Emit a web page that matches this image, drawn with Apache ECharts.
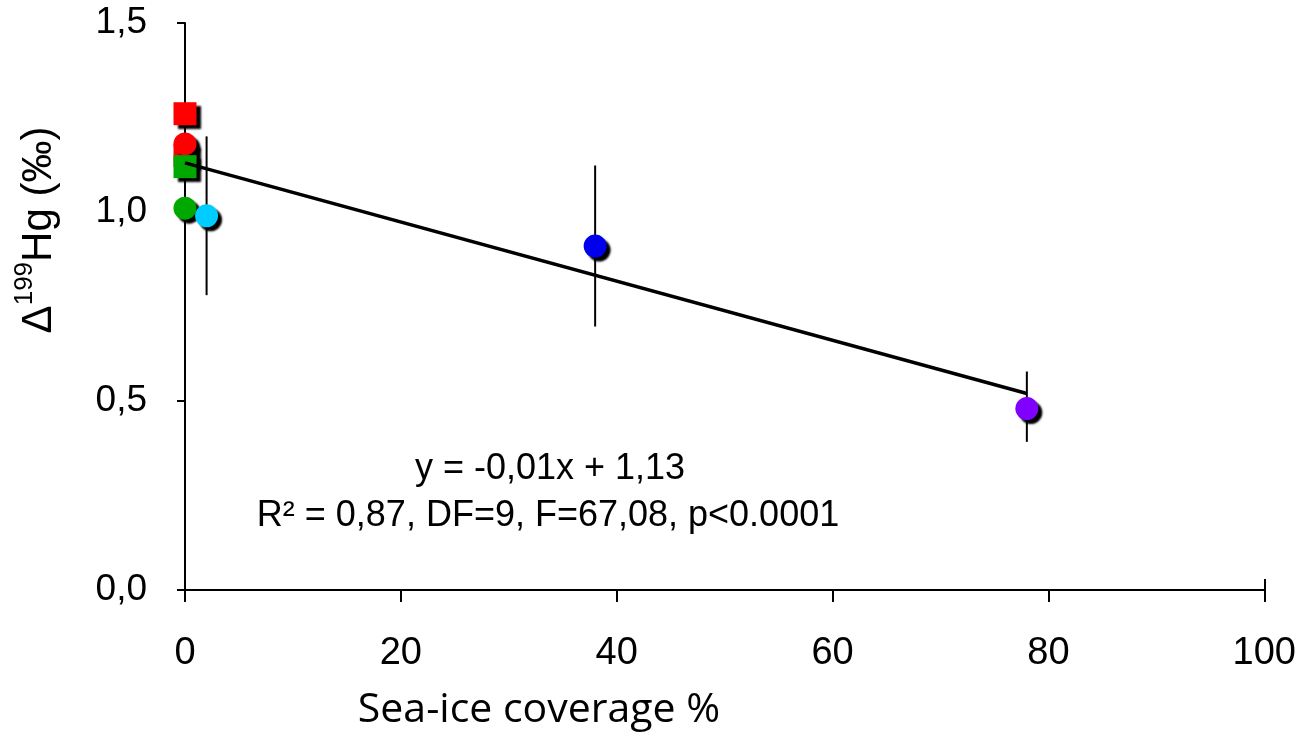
<!DOCTYPE html>
<html>
<head>
<meta charset="utf-8">
<script src="https://cdn.jsdelivr.net/npm/echarts@6/dist/echarts.min.js"></script>
<style>
  html, body { margin: 0; padding: 0; background: #fff; }
  #chart { width: 1299px; height: 735px; }
</style>
</head>
<body>
<div id="chart"></div>
<script>
// data
const redSquares = [[0, 1.26], [0, 1.15]]
const redCircles = [[0, 1.18]]
const greenSquares = [[0, 1.12]]
const greenCircles = [[0, 1.01]]
const cyanCircles = [[2, 0.99]]
const blueCircles = [[38, 0.91]]
const purpleCircles = [[78, 0.48]]

const errX = [2, 38, 78]
const errMean = [0.99, 0.91, 0.485]
const errSd = [0.21, 0.213, 0.093]

const fitX = [0, 78]
const fitY = [1.13, 0.52]

const xTicks = [0, 20, 40, 60, 80, 100]
const yTicks = [0, 0.5, 1.0, 1.5]

const chart = echarts.init(document.getElementById('chart'))

const markerStyle = color => ({
  color: color,
  opacity: 1,
  shadowColor: '#000',
  shadowBlur: 2,
  shadowOffsetX: 4,
  shadowOffsetY: 4
})

const scatter = (data, symbol, color) => ({
  type: 'scatter',
  data: data,
  symbol: symbol,
  symbolSize: 23,
  itemStyle: markerStyle(color),
  z: 3
})

chart.setOption({
  animation: false,
  grid: { left: 185, right: 34, top: 23, bottom: 145 },
  xAxis: {
    type: 'value',
    min: xTicks[0],
    max: xTicks[xTicks.length - 1],
    interval: 20,
    splitLine: { show: false },
    axisLine: { onZero: false, lineStyle: { color: '#000', width: 2 } },
    axisTick: { length: 12, lineStyle: { color: '#000', width: 2 } },
    axisLabel: {
      margin: 45,
      color: '#000',
      fontSize: 38,
      fontFamily: 'Liberation Sans'
    }
  },
  yAxis: {
    type: 'value',
    min: yTicks[0],
    max: yTicks[yTicks.length - 1],
    interval: 0.5,
    splitLine: { show: false },
    axisLine: { show: true, onZero: false, lineStyle: { color: '#000', width: 2 } },
    axisTick: { show: true, length: 8, lineStyle: { color: '#000', width: 2 } },
    axisLabel: {
      margin: 38,
      color: '#000',
      fontSize: 37,
      fontFamily: 'Liberation Sans',
      formatter: v => v.toFixed(1).replace('.', ',')
    }
  },
  series: [
    {
      type: 'custom',
      data: errX.map((x, i) => [x, errMean[i] - errSd[i], errMean[i] + errSd[i]]),
      renderItem: (params, api) => {
        const lo = api.coord([api.value(0), api.value(1)])
        const hi = api.coord([api.value(0), api.value(2)])
        return {
          type: 'line',
          shape: { x1: lo[0], y1: lo[1], x2: hi[0], y2: hi[1] },
          style: { stroke: '#000', lineWidth: 2 }
        }
      },
      z: 2
    },
    scatter(redSquares, 'rect', '#ff0000'),
    scatter(redCircles, 'circle', '#ff0000'),
    scatter(greenSquares, 'rect', '#00a800'),
    scatter(greenCircles, 'circle', '#00a800'),
    scatter(cyanCircles, 'circle', '#00ccff'),
    scatter(blueCircles, 'circle', '#0000ee'),
    scatter(purpleCircles, 'circle', '#8000ff'),
    {
      type: 'line',
      data: fitX.map((x, i) => [x, fitY[i]]),
      symbol: 'none',
      lineStyle: { color: '#000', width: 3.5 },
      z: 4
    }
  ],
  graphic: [
    {
      type: 'line',
      shape: { x1: 1265, y1: 579, x2: 1265, y2: 590 },
      style: { stroke: '#000', lineWidth: 2 }
    },
    {
      type: 'text',
      x: 550,
      y: 469,
      style: {
        text: 'y = -0,01x + 1,13',
        font: '36px "Liberation Sans"',
        fill: '#000',
        align: 'center',
        verticalAlign: 'middle'
      }
    },
    {
      type: 'text',
      x: 548,
      y: 516,
      style: {
        text: 'R² = 0,87, DF=9, F=67,08, p<0.0001',
        font: '36px "Liberation Sans"',
        fill: '#000',
        align: 'center',
        verticalAlign: 'middle'
      }
    },
    {
      type: 'text',
      x: 539,
      y: 710,
      style: {
        text: 'Sea-ice coverage %',
        font: '41px "Open Sans"',
        fill: '#000',
        align: 'center',
        verticalAlign: 'middle'
      }
    },
    {
      type: 'text',
      x: 36,
      y: 230,
      rotation: Math.PI / 2,
      style: {
        text: '{a|Δ}{s|199}{a|Hg (‰)}',
        align: 'center',
        verticalAlign: 'middle',
        fill: '#000',
        rich: {
          a: { fontSize: 42, fontFamily: 'Liberation Sans', lineHeight: 48, verticalAlign: 'bottom' },
          s: { fontSize: 26, fontFamily: 'Liberation Sans', lineHeight: 48, verticalAlign: 'top', padding: [0, 0, 16, 0] }
        }
      }
    }
  ]
})
</script>
</body>
</html>
